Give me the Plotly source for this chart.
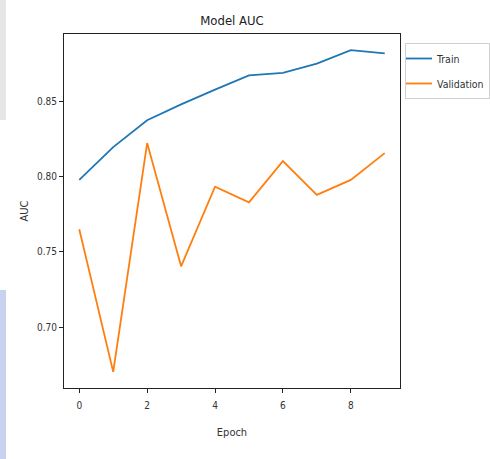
import plotly.graph_objects as go

epochs = [0, 1, 2, 3, 4, 5, 6, 7, 8, 9]
train_auc = [0.7978, 0.8195, 0.8373, 0.8478, 0.8576, 0.8671, 0.8687, 0.8749, 0.8838, 0.8816]
val_auc = [0.7651, 0.6705, 0.8222, 0.7405, 0.7933, 0.7829, 0.8102, 0.7878, 0.7978, 0.8155]
x_ticks = [0, 2, 4, 6, 8]
y_ticks = [0.70, 0.75, 0.80, 0.85]

FONT = "DejaVu Sans Condensed, Liberation Sans Narrow, DejaVu Sans, sans-serif"

fig = go.Figure()
fig.add_trace(go.Scatter(x=epochs, y=train_auc, mode="lines", name="Train",
                         legendgroup="a",
                         line=dict(color="#1f77b4", width=1.8)))
fig.add_trace(go.Scatter(x=epochs, y=val_auc, mode="lines", name="Validation",
                         legendgroup="b",
                         line=dict(color="#ff7f0e", width=1.8)))

fig.update_layout(
    width=490, height=459,
    margin=dict(l=64, r=90, t=34, b=71, autoexpand=False),
    paper_bgcolor="white", plot_bgcolor="white",
    font=dict(family=FONT, size=10, color="#333"),
    title=dict(text="Model AUC", x=(64 + 168) / 490, xanchor="center",
               y=1 - 20 / 459, yanchor="middle",
               font=dict(family=FONT, size=13, color="#222")),
    showlegend=True,
    legend=dict(x=(405 - 64) / 336, y=(388 - 43) / 354, xanchor="left", yanchor="top",
                bgcolor="white", bordercolor="#d0d0d0", borderwidth=1,
                font=dict(family=FONT, size=10.5, color="#333"),
                tracegroupgap=6, itemwidth=30, indentation=-9),
    xaxis=dict(range=[-0.45, 9.45], tickvals=x_ticks, showgrid=False, zeroline=False,
               automargin=False,
               showline=True, mirror=True, linecolor="#222", linewidth=1,
               ticks="outside", ticklen=4, tickcolor="#222", ticklabelstandoff=4,
               title=dict(text="Epoch", standoff=18, font=dict(size=11))),
    yaxis=dict(range=[0.6598, 0.8945], tickvals=y_ticks, tickformat=".2f",
               showgrid=False, zeroline=False, automargin=False,
               showline=True, mirror=True, linecolor="#222", linewidth=1,
               ticks="outside", ticklen=4, tickcolor="#222",
               title=dict(text="AUC", standoff=6, font=dict(size=11))),
    shapes=[
        dict(type="rect", xref="paper", yref="paper",
             x0=-64 / 336, x1=-58 / 336, y0=(388 - 0) / 354, y1=(388 - 120) / 354,
             fillcolor="#e6e6e6", line=dict(width=0), layer="below"),
        dict(type="rect", xref="paper", yref="paper",
             x0=-64 / 336, x1=-58 / 336, y0=(388 - 290) / 354, y1=(388 - 459) / 354,
             fillcolor="#c8d2ee", line=dict(width=0), layer="below"),
    ],
)

fig.write_html("out.html", config={"displayModeBar": False},
               post_script="document.body.style.margin='0';document.body.style.padding='0';")
